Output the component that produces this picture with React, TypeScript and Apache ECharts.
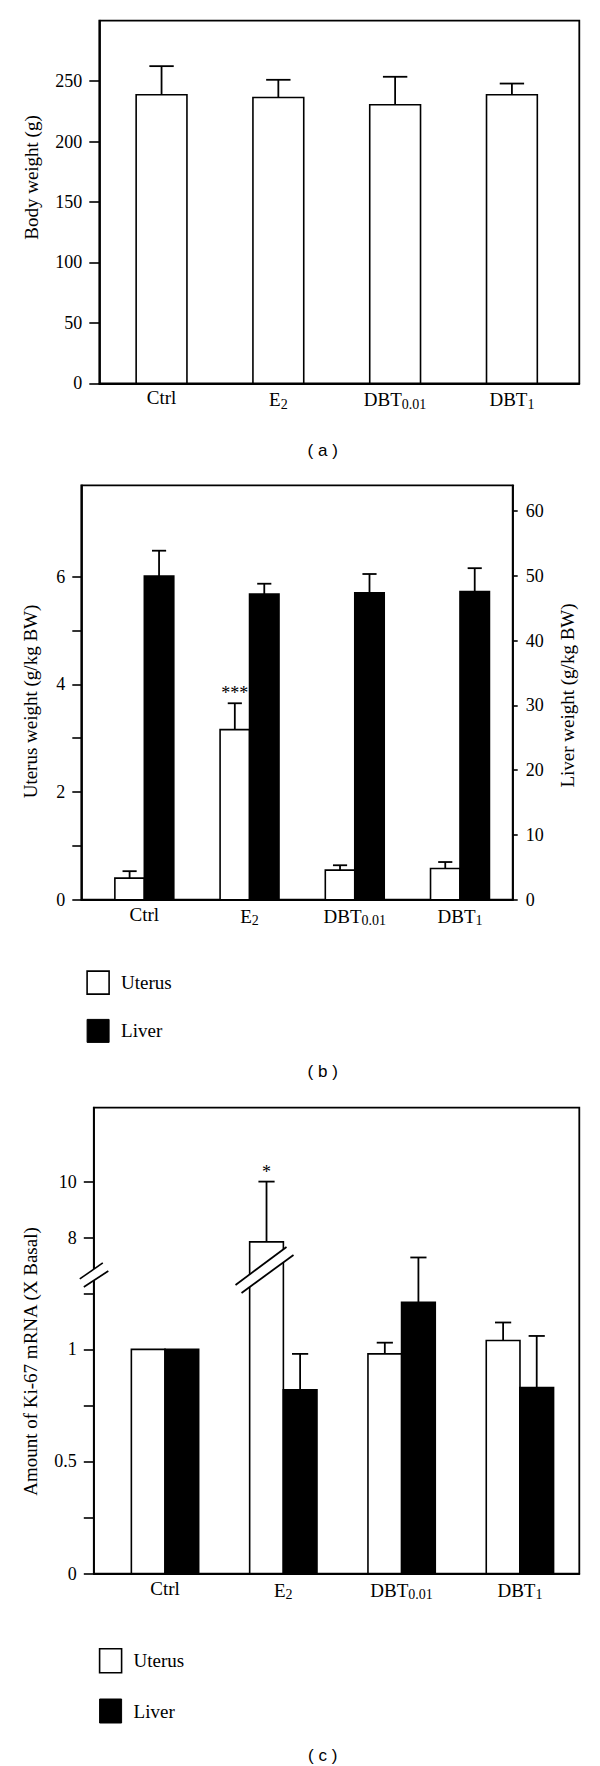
import React, { useEffect, useRef } from 'react';
import * as echarts from 'echarts';

// ---------- data ----------
const catBase = ['Ctrl', 'E', 'DBT', 'DBT'];
const catSub = ['', '2', '0.01', '1'];
const catIdx = [0, 1, 2, 3];

// (a) body weight
const bodyWeight = [238.7, 236.4, 230.4, 238.7];
const bodyWeightSD = [23.7, 14.7, 23.2, 9.3];
const bodyTicks = [0, 50, 100, 150, 200, 250];

// (b) organ weights
const uterusWeight = [0.4, 3.16, 0.55, 0.58];
const uterusWeightSD = [0.13, 0.49, 0.09, 0.12];
const liverWeight = [50.0, 47.2, 47.4, 47.6];
const liverWeightSD = [3.9, 1.6, 2.9, 3.6];
const weightSig = ['', '***', '', ''];
const uterusTicks = [0, 1, 2, 3, 4, 5, 6];
const uterusLabels = [0, 2, 4, 6];
const liverTicks = [0, 10, 20, 30, 40, 50, 60];

// (c) Ki-67 mRNA
const kiUterus = [1.0, 7.85, 0.98, 1.04];
const kiUterusSD = [0, 2.15, 0.05, 0.08];
const kiLiver = [1.0, 0.82, 1.21, 0.83];
const kiLiverSD = [0, 0.16, 0.2, 0.23];
const kiSig = ['', '*', '', ''];
const kiLowTicks = [0, 0.25, 0.5, 0.75, 1, 1.25];
const kiLowLabels = [0, 0.5, 1];
const kiHighTicks = [8, 10];

// ---------- layout constants ----------
const SERIF = 'Liberation Serif';
const SANS = 'Liberation Sans';
const KI_LOW_MAX = 2.0785;
const KI_HIGH_MIN = -3.975;
const KI_HIGH_MAX = 12.638;
const KI_BREAK = 6.85;

const rich = {
  b: { fontFamily: SERIF, fontSize: 19, color: '#000' },
  s: { fontFamily: SERIF, fontSize: 14, color: '#000', padding: [9, 0, 0, 0] },
};
const catFormatter = (v: number) => {
  const i = Math.round(v);
  return catSub[i] ? `{b|${catBase[i]}}{s|${catSub[i]}}` : `{b|${catBase[i]}}`;
};

const black = { color: '#000', width: 1.8 };

function makeRenderer(o: {
  offset: number;
  width: number;
  fill: string;
  sig?: string[];
  upper?: boolean;
}) {
  return (params: any, api: any) => {
    const i = api.value(0);
    const v = api.value(1);
    const sd = api.value(2);
    const cs = params.coordSys;
    const unit = api.size([1, 0])[0];
    const cx = api.coord([i + o.offset, 0])[0];
    const w = unit * o.width;
    const top = api.coord([i + o.offset, v])[1];
    const base = o.upper ? cs.y + cs.height : api.coord([i + o.offset, 0])[1];
    const children: any[] = [
      {
        type: 'rect',
        shape: { x: cx - w / 2, y: top, width: w, height: base - top },
        style: { fill: o.fill, stroke: '#000', lineWidth: 1.6 },
      },
    ];
    let et = top;
    if (sd > 0) {
      et = api.coord([i + o.offset, v + sd])[1];
      const cap = w * 0.48;
      children.push(
        { type: 'line', shape: { x1: cx, y1: top, x2: cx, y2: et }, style: { stroke: '#000', lineWidth: 1.8 } },
        { type: 'line', shape: { x1: cx - cap / 2, y1: et, x2: cx + cap / 2, y2: et }, style: { stroke: '#000', lineWidth: 1.8 } }
      );
    }
    if (o.sig && o.sig[i]) {
      children.push({
        type: 'text',
        style: {
          x: cx, y: et - 10, text: o.sig[i], align: 'center', verticalAlign: 'middle',
          font: `18px "${SERIF}"`, fill: '#000',
        },
      });
    }
    if (o.upper) {
      const by = api.coord([i + o.offset, KI_BREAK])[1];
      children.push(
        {
          type: 'polygon',
          shape: { points: [[cx - 31, by + 15], [cx + 20, by - 23], [cx + 27, by - 15], [cx - 25, by + 23]] },
          style: { fill: '#fff' },
        },
        { type: 'line', shape: { x1: cx - 31, y1: by + 15, x2: cx + 20, y2: by - 23 }, style: { stroke: '#000', lineWidth: 1.8 } },
        { type: 'line', shape: { x1: cx - 25, y1: by + 23, x2: cx + 27, y2: by - 15 }, style: { stroke: '#000', lineWidth: 1.8 } }
      );
      const ax = cs.x;
      const ay = by + 5;
      children.push(
        {
          type: 'polygon',
          shape: { points: [[ax - 14, ay + 4], [ax + 9, ay - 12], [ax + 14.5, ay - 4], [ax - 10, ay + 12]] },
          style: { fill: '#fff' },
        },
        { type: 'line', shape: { x1: ax - 14, y1: ay + 4, x2: ax + 9, y2: ay - 12 }, style: { stroke: '#000', lineWidth: 1.6 } },
        { type: 'line', shape: { x1: ax - 10, y1: ay + 12, x2: ax + 14.5, y2: ay - 4 }, style: { stroke: '#000', lineWidth: 1.6 } }
      );
    }
    return { type: 'group', children };
  };
}

const rows = (vals: number[], sds: number[], keep: (v: number) => boolean = () => true) =>
  catIdx.filter((i) => keep(vals[i])).map((i) => [i, vals[i], sds[i]]);

function xAxisCfg(gridIndex: number, min: number, max: number, margin: number, show = true) {
  return {
    type: 'value', gridIndex, min, max, show,
    axisLine: { show: true, onZero: false, lineStyle: black },
    axisTick: { show: false },
    splitLine: { show: false },
    axisLabel: { customValues: catIdx, formatter: catFormatter, rich, margin },
  };
}

function yAxisCfg(gridIndex: number, min: number, max: number, ticks: number[], labels: number[], extra: any = {}) {
  return {
    type: 'value', gridIndex, min, max,
    position: extra.position || 'left',
    axisLine: { show: extra.lineShow !== false, onZero: false, lineStyle: black },
    axisTick: { show: true, inside: false, length: extra.tickLen || 10, customValues: ticks, lineStyle: { color: '#000', width: 1.6 } },
    axisLabel: { customValues: labels, margin: extra.margin || 17, fontFamily: SERIF, fontSize: 18, color: '#000' },
    splitLine: { show: false },
  };
}

const titleText = (x: number, y: number, text: string) => ({
  type: 'text', x, y, rotation: Math.PI / 2,
  style: { text, align: 'center', verticalAlign: 'middle', font: `19px "${SERIF}"`, fill: '#000' },
});
const panelText = (x: number, y: number, text: string) => ({
  type: 'text', x, y,
  style: { text, align: 'center', verticalAlign: 'middle', font: `17px "${SANS}"`, fill: '#000' },
});

const legendCfg = (left: number, top: number, h: number, gap: number) => ({
  left, top, orient: 'vertical', itemWidth: 22, itemHeight: h, itemGap: gap, selectedMode: false,
  data: [
    { name: 'Uterus', icon: 'rect', itemStyle: { color: '#fff', borderColor: '#000', borderWidth: 1.6 } },
    { name: 'Liver', icon: 'rect', itemStyle: { color: '#000', borderColor: '#000', borderWidth: 1 } },
  ],
  textStyle: { fontFamily: SERIF, fontSize: 19, color: '#000', padding: [0, 0, 0, 7] },
});

export default function App() {
  const ref = useRef<HTMLDivElement>(null);
  useEffect(() => {
    if (!ref.current) return;
    const chart = echarts.init(ref.current, undefined, { renderer: 'svg' });
    const gridBase = { show: true, borderColor: '#000', borderWidth: 1.8, backgroundColor: 'transparent', containLabel: false };
    chart.setOption({
      animation: false,
      backgroundColor: '#fff',
      grid: [
        { ...gridBase, left: 99.3, top: 20.7, width: 480, height: 362.6 },
        { ...gridBase, left: 81.3, top: 485.3, width: 431.4, height: 414.4 },
        { ...gridBase, left: 93.8, top: 1107.6, width: 485.5, height: 466 },
        { left: 93.8, top: 1107.6, width: 485.5, height: 466, show: false },
      ],
      xAxis: [
        xAxisCfg(0, -0.533, 3.577, 5),
        xAxisCfg(1, -0.599, 3.501, 5),
        xAxisCfg(2, -0.602, 3.502, 5),
        { ...xAxisCfg(3, -0.602, 3.502, 5), show: false },
      ],
      yAxis: [
        yAxisCfg(0, 0, 300, bodyTicks, bodyTicks),
        yAxisCfg(1, 0, 7.7, uterusTicks, uterusLabels, { tickLen: 9, margin: 16 }),
        yAxisCfg(1, 0, 64, liverTicks, liverTicks, { position: 'right', tickLen: 5, margin: 13 }),
        yAxisCfg(2, 0, KI_LOW_MAX, kiLowTicks, kiLowLabels),
        yAxisCfg(3, KI_HIGH_MIN, KI_HIGH_MAX, kiHighTicks, kiHighTicks, { lineShow: false }),
      ],
      legend: [legendCfg(81.3, 965.3, 23, 24), legendCfg(93.8, 1642.9, 24, 25)],
      series: [
        {
          type: 'custom', name: 'Body weight', xAxisIndex: 0, yAxisIndex: 0,
          renderItem: makeRenderer({ offset: 0, width: 0.435, fill: '#fff' }),
          data: rows(bodyWeight, bodyWeightSD),
        },
        {
          type: 'custom', name: 'Uterus', xAxisIndex: 1, yAxisIndex: 1,
          itemStyle: { color: '#fff', borderColor: '#000' },
          renderItem: makeRenderer({ offset: -0.14, width: 0.28, fill: '#fff', sig: weightSig }),
          data: rows(uterusWeight, uterusWeightSD),
        },
        {
          type: 'custom', name: 'Liver', xAxisIndex: 1, yAxisIndex: 2,
          itemStyle: { color: '#000' },
          renderItem: makeRenderer({ offset: 0.14, width: 0.28, fill: '#000' }),
          data: rows(liverWeight, liverWeightSD),
        },
        {
          type: 'custom', name: 'Uterus', xAxisIndex: 2, yAxisIndex: 3,
          itemStyle: { color: '#fff', borderColor: '#000' },
          renderItem: makeRenderer({ offset: -0.142, width: 0.285, fill: '#fff', sig: kiSig }),
          data: rows(kiUterus, kiUterusSD, (v) => v <= KI_LOW_MAX),
        },
        {
          type: 'custom', name: 'Uterus', xAxisIndex: 3, yAxisIndex: 4,
          itemStyle: { color: '#fff', borderColor: '#000' },
          renderItem: makeRenderer({ offset: -0.142, width: 0.285, fill: '#fff', sig: kiSig, upper: true }),
          data: rows(kiUterus, kiUterusSD, (v) => v > KI_LOW_MAX),
        },
        {
          type: 'custom', name: 'Liver', xAxisIndex: 2, yAxisIndex: 3,
          itemStyle: { color: '#000' },
          renderItem: makeRenderer({ offset: 0.142, width: 0.285, fill: '#000' }),
          data: rows(kiLiver, kiLiverSD),
        },
      ],
      graphic: [
        titleText(31.4, 177.5, 'Body weight (g)'),
        titleText(30.6, 701.5, 'Uterus weight (g/kg BW)'),
        titleText(567.8, 695.5, 'Liver weight (g/kg BW)'),
        titleText(30.6, 1361.5, 'Amount of Ki-67 mRNA (X Basal)'),
        panelText(322.7, 450, '( a )'),
        panelText(322.7, 1071.4, '( b )'),
        panelText(322.7, 1755.4, '( c )'),
      ],
    });
    return () => chart.dispose();
  }, []);
  return <div ref={ref} style={{ position: 'absolute', left: 0, top: 0, width: 600, height: 1766, background: '#fff' }} />;
}
